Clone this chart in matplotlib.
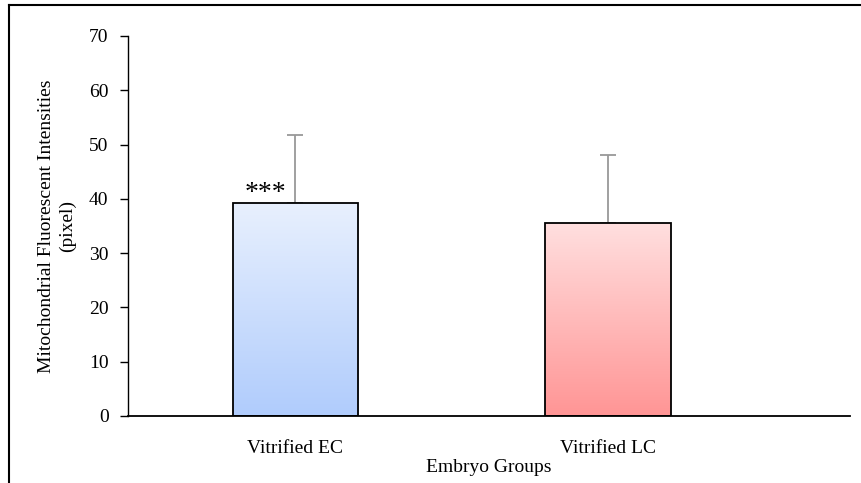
import matplotlib
matplotlib.use("Agg")
import matplotlib.pyplot as plt
import numpy as np
from matplotlib.colors import LinearSegmentedColormap
from matplotlib.lines import Line2D

categories = ["Vitrified EC", "Vitrified LC"]
values = [39.2, 35.5]
errors = [12.6, 12.5]
yticks = [0, 10, 20, 30, 40, 50, 60, 70]
annotation = "***"

top_colors = ["#e8f0fe", "#ffdfdf"]
bottom_colors = ["#b0ccfc", "#ff9595"]

plt.rcParams['font.family'] = ['Liberation Serif', 'DejaVu Serif']

fig = plt.figure(figsize=(8.61, 4.83), dpi=100)
ax = fig.add_axes([128/861, 1-416/483, (850-128)/861, (416-36)/483])

x = np.arange(len(categories))
bars = ax.bar(x, values, width=0.4, facecolor='none', edgecolor='black', linewidth=1.3, zorder=3)

for bar, tc, bc in zip(bars, top_colors, bottom_colors):
    cmap = LinearSegmentedColormap.from_list("g", [bc, tc])
    grad = np.linspace(0, 1, 256).reshape(-1, 1)
    x0 = bar.get_x()
    ax.imshow(grad, aspect='auto', cmap=cmap, origin='lower',
              extent=[x0, x0 + bar.get_width(), 0, bar.get_height()], zorder=2)

ax.errorbar(x, values, yerr=[np.zeros(len(errors)), errors], fmt='none',
            ecolor='#999999', elinewidth=1.3, capsize=6, capthick=1.3, zorder=1)

ax.text(x[0] - 0.095, values[0] - 0.6, annotation, ha='center', va='bottom', fontsize=20)

ax.set_xlim(-0.534, 1.773)
ax.set_ylim(0, 70)
ax.set_yticks(yticks)
ax.set_xticks(x)
ax.set_xticklabels(categories, fontsize=14)
ax.tick_params(axis='x', length=0, pad=17)
ax.tick_params(axis='y', labelsize=14, length=6, direction='out', width=1, pad=8)
for s in ['top', 'right']:
    ax.spines[s].set_visible(False)
ax.spines['left'].set_linewidth(1)
ax.spines['bottom'].set_linewidth(1.3)

ax.set_xlabel("Embryo Groups", fontsize=14, labelpad=2)
ax.set_ylabel("Mitochondrial Fluorescent Intensities\n(pixel)", fontsize=14, labelpad=9, linespacing=1.3)

fig.add_artist(Line2D([9/861, 1.0], [1-5/483, 1-5/483], color='black', lw=1.5, transform=fig.transFigure))
fig.add_artist(Line2D([9/861, 9/861], [0, 1-5/483], color='black', lw=1.5, transform=fig.transFigure))

fig.savefig("out.png", dpi=100)
